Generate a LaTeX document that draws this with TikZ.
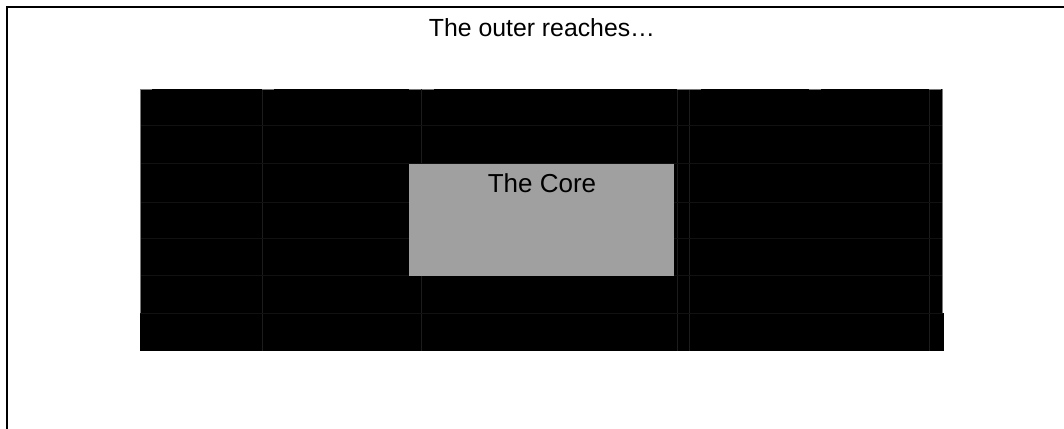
\documentclass[tikz,border=0pt]{standalone}
\usepackage{fontspec}
\setmainfont{Liberation Sans}
\definecolor{coregray}{HTML}{A0A0A0}
\definecolor{seam}{HTML}{1C1C1C}
\definecolor{faintseam}{HTML}{111111}
\definecolor{edgegray}{HTML}{7A7A7A}
\begin{document}
\begin{tikzpicture}[x=1pt,y=-1pt,
  frame/.style={draw=black,line width=2.8pt},
  block/.style={fill=black,draw=none},
  seamline/.style={draw=seam,line width=0.8pt},
  faintline/.style={draw=faintseam,line width=0.7pt},
  edgeline/.style={draw=edgegray,line width=0.8pt},
  corebox/.style={fill=coregray,draw=none},
  titlelabel/.style={font=\fontsize{24.8}{28}\selectfont,anchor=base,inner sep=0pt},
  corelabel/.style={font=\fontsize{26}{29}\selectfont,anchor=base,inner sep=0pt}]
\useasboundingbox (0,0) rectangle (1064,428);
\fill[white] (0,0) rectangle (1064,428);
% outer frame (right and bottom lie beyond the page)
\draw[frame] (7,440) -- (7,7) -- (1080,7);
% the outer reaches block
\fill[block] (140,89) rectangle (943,313);
\fill[block] (140,313) rectangle (944,351);
% seams
\foreach \x in {262,421.5,677,689,929}
  \draw[seamline] (\x,89) -- (\x,351);
\foreach \y in {125,163.5,202,238,275,313}
  \draw[faintline] (140,\y) -- (943,\y);
\draw[edgeline] (140.4,89) -- (140.4,313);
\draw[edgeline] (942.6,89) -- (942.6,313);
\foreach \x in {140,262,409,421.5,677,689,809,929}
  \draw[edgeline] (\x,89.4) -- ++(12,0);
% core
\node[corebox,anchor=north west,minimum width=265pt,minimum height=112pt,inner sep=0pt] (core) at (409,164) {};
\node[corelabel] (corename) at (542,192.5) {The Core};
\node[titlelabel] (title) at (542,37) {The outer reaches\ldots};
\end{tikzpicture}
\end{document}
